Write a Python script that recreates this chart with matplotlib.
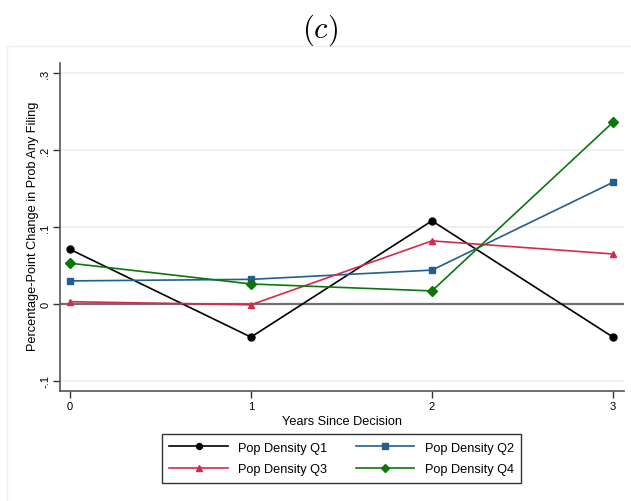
import matplotlib
matplotlib.use('Agg')
import matplotlib.pyplot as plt
from matplotlib.patches import Rectangle

plt.rcParams['font.family'] = ['Liberation Sans', 'DejaVu Sans']
plt.rcParams['mathtext.fontset'] = 'cm'

# Event-time estimates by population density quartile
years = [0, 1, 2, 3]
q1 = [0.071, -0.043, 0.108, -0.043]
q2 = [0.030, 0.032, 0.044, 0.158]
q3 = [0.003, -0.001, 0.082, 0.065]
q4 = [0.053, 0.026, 0.017, 0.236]
labels = ['Pop Density Q1', 'Pop Density Q2', 'Pop Density Q3', 'Pop Density Q4']
yticks = [-0.1, 0, 0.1, 0.2, 0.3]
ytick_labels = ['-.1', '0', '.1', '.2', '.3']

fig = plt.figure(figsize=(6.31, 5.02), dpi=100)

# light panel border behind the graph
fig.patches.append(Rectangle((7 / 631, -0.01), 0.99, 1 - 47 / 502 + 0.01,
                             transform=fig.transFigure, fill=False,
                             edgecolor='#eeeeee', linewidth=1))

ax = fig.add_axes([60 / 631, 1 - 392 / 502, 564 / 631, 328 / 502])

series = [
    (q1, 'black', 'o'),
    (q2, '#215f8f', 's'),
    (q3, '#d42a4c', '^'),
    (q4, '#0b770b', 'D'),
]
handles = []
for (vals, col, mk), lab in zip(series, labels):
    h, = ax.plot(years, vals, color=col, marker=mk, markersize=5, linewidth=1.2,
                 label=lab, zorder=3)
    handles.append(h)

ax.axhline(0, color='#707070', linewidth=1.6, zorder=2)
for y in yticks:
    if y != 0:
        ax.axhline(y, color='#eeeeee', linewidth=1.2, zorder=1)

ax.set_xlim(-0.055, 3.061)
ax.set_ylim(-0.113, 0.313)
ax.set_xticks(years)
ax.set_xticklabels([str(x) for x in years], fontsize=8)
ax.set_yticks(yticks)
ax.set_yticklabels(ytick_labels, fontsize=8, rotation=90, va='center')
ax.tick_params(direction='out', length=5, width=1, color='#333333', pad=2)

for s in ['top', 'right']:
    ax.spines[s].set_visible(False)
for s in ['left', 'bottom']:
    ax.spines[s].set_color('#555555')
    ax.spines[s].set_linewidth(1.2)

ax.set_xlabel('Years Since Decision', fontsize=9.2, labelpad=3)
ax.set_ylabel('Percentage-Point Change in Prob Any Filing', fontsize=9.2)
ax.yaxis.set_label_coords(-21 / 564, (392 - 226.5) / 328)

# legend filled row by row: Q1 Q2 / Q3 Q4
order = [0, 2, 1, 3]
leg = fig.legend([handles[i] for i in order], [labels[i] for i in order],
                 loc='center', bbox_to_anchor=(341.5 / 631, 1 - 459.5 / 502), ncol=2,
                 fontsize=9.2, frameon=True, fancybox=False, edgecolor='black',
                 handlelength=4.6, handletextpad=0.8, columnspacing=2.2,
                 borderpad=0.6, labelspacing=0.75, markerscale=0.85)
leg.get_frame().set_linewidth(1)

fig.text(320 / 631, 1 - 30 / 502, r'$(c)$', fontsize=22, ha='center', va='center')

fig.savefig('out.png', dpi=100)
